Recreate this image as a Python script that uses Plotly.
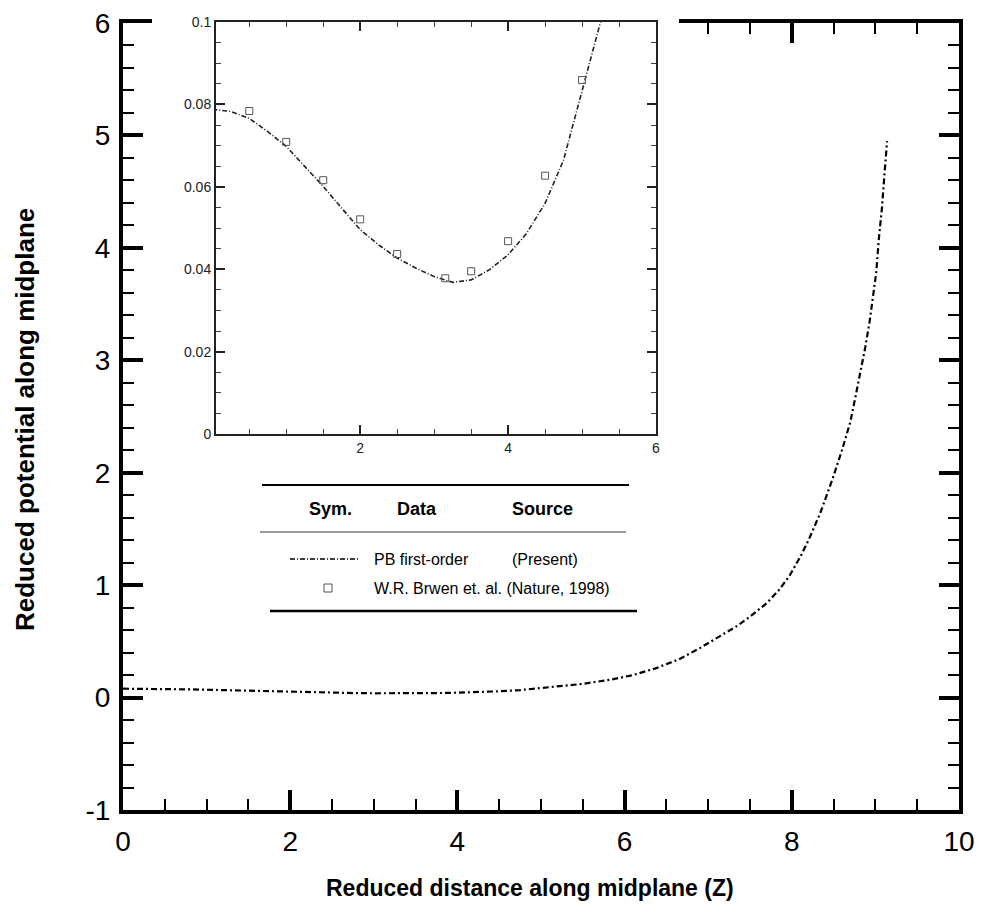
import plotly.graph_objects as go

W, H = 981, 905

# ---------------- data ----------------
pb_z = [0.0, 0.25, 0.5, 0.75, 1.0, 1.25, 1.5, 1.75, 2.0, 2.25, 2.5, 2.75, 3.0, 3.25,
        3.5, 3.75, 4.0, 4.25, 4.5, 4.75, 5.0, 5.25, 5.5, 5.84, 6.1, 6.37, 6.65, 6.9,
        7.1, 7.33, 7.5, 7.7, 7.85, 7.97, 8.1, 8.2, 8.34, 8.49, 8.6, 8.7, 8.76, 8.83,
        8.88, 8.93, 8.97, 9.01, 9.04, 9.08, 9.11, 9.14]
pb_psi = [0.0788, 0.0783, 0.0766, 0.0734, 0.0698, 0.0649, 0.0601, 0.0548, 0.0496,
          0.0459, 0.0427, 0.0403, 0.0382, 0.0368, 0.0374, 0.0399, 0.0435, 0.0487,
          0.0560, 0.0665, 0.0831, 0.100, 0.122, 0.16, 0.20, 0.26, 0.34, 0.44, 0.53,
          0.63, 0.72, 0.84, 0.96, 1.08, 1.25, 1.40, 1.64, 1.95, 2.20, 2.45, 2.67,
          2.92, 3.12, 3.34, 3.54, 3.78, 4.07, 4.37, 4.67, 4.95]

bowen_z = [0.5, 1.0, 1.5, 2.0, 2.5, 3.15, 3.5, 4.0, 4.5, 5.0]
bowen_psi = [0.0784, 0.0709, 0.0616, 0.0521, 0.0437, 0.0378, 0.0395, 0.0468, 0.0627, 0.0859]

main_xticks = [0, 2, 4, 6, 8, 10]
main_yticks = [-1, 0, 1, 2, 3, 4, 5, 6]
main_yticklabels = ["-1", "0", "1", "2", "3", "4", "5", "6"]
inset_xticks = [2, 4, 6]
inset_yticks = [0, 0.02, 0.04, 0.06, 0.08, 0.1]
inset_yticklabels = ["0", "0.02", "0.04", "0.06", "0.08", "0.1"]

x_title = "Reduced distance along midplane (Z)"
y_title = "Reduced potential along midplane"
leg_header = ["Sym.", "Data", "Source"]
leg_row1 = ["PB first-order", "(Present)"]
leg_row2 = "W.R. Brwen et. al. (Nature, 1998)"

# cover polygon (unit square) used to blank the area behind the inset
cover_x = [0, 1, 1, 0, 0]
cover_y = [0, 0, 1, 1, 0]

FONT = "Liberation Sans, Arial, sans-serif"


def px(x):
    return x / W


def py(y):
    return 1 - y / H


fig = go.Figure()

# main curve
fig.add_trace(go.Scatter(x=pb_z, y=pb_psi, mode="lines", xaxis="x", yaxis="y",
                         line=dict(color="black", width=2.2, dash="6px,3px,2px,3px"),
                         showlegend=False, hoverinfo="skip"))
# white cover behind the inset (subplot 2)
fig.add_trace(go.Scatter(x=cover_x, y=cover_y, mode="lines", fill="toself",
                         fillcolor="white", line=dict(width=0, color="white"),
                         xaxis="x2", yaxis="y2", showlegend=False, hoverinfo="skip"))
# inset curve
fig.add_trace(go.Scatter(x=pb_z, y=pb_psi, mode="lines", xaxis="x3", yaxis="y3",
                         line=dict(color="#222", width=1.6, dash="5px,2px,1px,2px"),
                         showlegend=False, hoverinfo="skip"))
# inset experimental points
fig.add_trace(go.Scatter(x=bowen_z, y=bowen_psi, mode="markers", xaxis="x3", yaxis="y3",
                         marker=dict(symbol="square-open", size=7,
                                     line=dict(color="#555", width=1), color="#555"),
                         showlegend=False, hoverinfo="skip"))

main_ax = dict(showline=True, linewidth=4, linecolor="black", mirror="ticks",
               ticks="inside", ticklen=20, tickwidth=4, tickcolor="black",
               showgrid=False, zeroline=False, automargin=False,
               ticklabelstandoff=3,
               tickfont=dict(family=FONT, size=28, color="black"))

inset_ax = dict(showline=True, linewidth=2, linecolor="#222", mirror="ticks",
                ticks="inside", ticklen=9, tickwidth=2, tickcolor="#222",
                showgrid=False, zeroline=False, automargin=False,
                tickfont=dict(family=FONT, size=14, color="#222"))

fig.update_layout(
    template="none",
    width=W, height=H, margin=dict(l=0, r=0, t=0, b=0, pad=0, autoexpand=False),
    paper_bgcolor="white", plot_bgcolor="white", showlegend=False,
    xaxis=dict(domain=[px(123), px(959)], range=[0, 10], tickvals=main_xticks,
               minor=dict(dtick=0.5, ticklen=11, tickwidth=2, tickcolor="black",
                          ticks="inside"),
               anchor="y", **main_ax),
    yaxis=dict(domain=[py(810), py(23)], range=[-1, 6], tickvals=main_yticks,
               ticktext=main_yticklabels,
               minor=dict(dtick=0.2, ticklen=11, tickwidth=2, tickcolor="black",
                          ticks="inside"),
               anchor="x", **main_ax),
    xaxis2=dict(domain=[px(152), px(679)], range=[0, 1], visible=False,
                anchor="y2", fixedrange=True, automargin=False),
    yaxis2=dict(domain=[py(458), 1.0], range=[0, 1], visible=False,
                anchor="x2", fixedrange=True, automargin=False),
    xaxis3=dict(domain=[px(216), px(656)], range=[0.05, 6], tickvals=inset_xticks,
                anchor="y3",
                minor=dict(dtick=0.5, ticklen=5, tickwidth=1, tickcolor="#444",
                           ticks="inside"),
                **inset_ax),
    yaxis3=dict(domain=[py(434), py(22)], range=[0, 0.1], tickvals=inset_yticks,
                ticktext=inset_yticklabels, anchor="x3",
                minor=dict(dtick=0.005, ticklen=5, tickwidth=1, tickcolor="#444",
                           ticks="inside"),
                **inset_ax),
)

ann = []
ann.append(dict(text=x_title, x=px(530), y=py(888), xref="paper", yref="paper",
                showarrow=False, xanchor="center", yanchor="middle",
                font=dict(family=FONT, size=23, color="black", weight="bold")))
ann.append(dict(text=y_title, x=px(25), y=py(420), xref="paper", yref="paper",
                showarrow=False, xanchor="center", yanchor="middle", textangle=-90,
                font=dict(family=FONT, size=26, color="black", weight="bold")))
for txt, cx in zip(leg_header, [330, 417, 542]):
    ann.append(dict(text=txt, x=px(cx), y=py(509), xref="paper", yref="paper",
                    showarrow=False, xanchor="center", yanchor="middle",
                    font=dict(family=FONT, size=18, color="black", weight="bold")))
for txt, lx in zip(leg_row1, [372, 510]):
    ann.append(dict(text=txt, x=px(lx), y=py(559), xref="paper", yref="paper",
                    showarrow=False, xanchor="left", yanchor="middle",
                    font=dict(family=FONT, size=16, color="black")))
ann.append(dict(text=leg_row2, x=px(372), y=py(588), xref="paper", yref="paper",
                showarrow=False, xanchor="left", yanchor="middle",
                font=dict(family=FONT, size=16, color="black")))
fig.update_layout(annotations=ann)

shapes = [
    dict(type="line", xref="paper", yref="paper", x0=px(262), x1=px(629),
         y0=py(485), y1=py(485), line=dict(color="black", width=2)),
    dict(type="line", xref="paper", yref="paper", x0=px(260), x1=px(626),
         y0=py(532), y1=py(532), line=dict(color="#9a9a9a", width=2)),
    dict(type="line", xref="paper", yref="paper", x0=px(270), x1=px(637),
         y0=py(611), y1=py(611), line=dict(color="black", width=2.5)),
    dict(type="line", xref="paper", yref="paper", x0=px(290), x1=px(360),
         y0=py(559), y1=py(559),
         line=dict(color="black", width=1.6, dash="5px,2px,1px,2px")),
    dict(type="rect", xref="paper", yref="paper", x0=px(324), x1=px(332),
         y0=py(592), y1=py(584), line=dict(color="#555", width=1),
         fillcolor="white"),
]
fig.update_layout(shapes=shapes)

fig.write_html("out.html")
